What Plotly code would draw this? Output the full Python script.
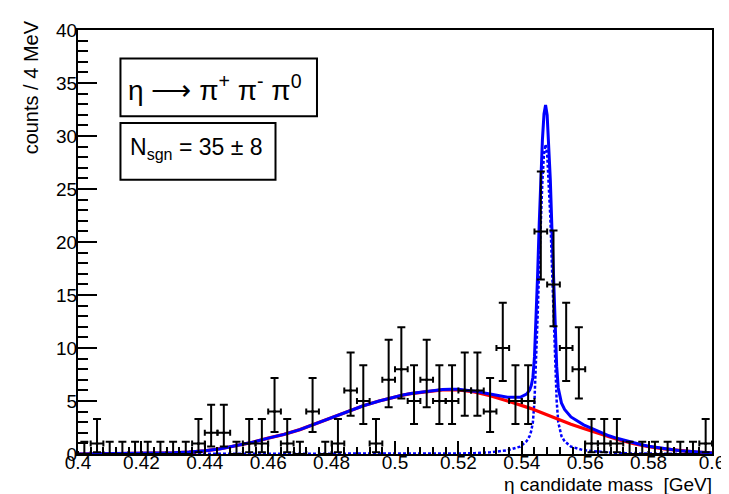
import plotly.graph_objects as go

# ---------------- data ----------------
bin_centers = [0.402, 0.406, 0.410, 0.414, 0.418, 0.422, 0.426, 0.430, 0.434, 0.438,
               0.442, 0.446, 0.450, 0.454, 0.458, 0.462, 0.466, 0.470, 0.474, 0.478,
               0.482, 0.486, 0.490, 0.494, 0.498, 0.502, 0.506, 0.510, 0.514, 0.518,
               0.522, 0.526, 0.530, 0.534, 0.538, 0.542, 0.546, 0.550, 0.554, 0.558,
               0.562, 0.566, 0.570, 0.574, 0.578, 0.582, 0.586, 0.590, 0.594, 0.598]
counts = [0, 1, 0, 0, 0, 0, 0, 0, 0, 1,
          2, 2, 0, 1, 1, 4, 1, 0, 4, 0,
          1, 6, 5, 1, 7, 8, 5, 7, 5, 5,
          6, 6, 4, 10, 5, 5, 21, 16, 10, 8,
          1, 1, 1, 0, 0, 0, 0, 0, 0, 1]
bin_half_width = 0.002

# Poisson (68%) interval limits for each count value
poisson_low = {0: 0.0, 1: 0.173, 2: 0.708, 3: 1.367, 4: 2.086, 5: 2.840, 6: 3.620,
               7: 4.419, 8: 5.232, 9: 6.057, 10: 6.891, 16: 12.05, 21: 16.46}
poisson_high = {0: 1.148, 1: 3.300, 2: 4.638, 3: 5.918, 4: 7.163, 5: 8.382, 6: 9.584,
                7: 10.77, 8: 11.95, 9: 13.11, 10: 14.27, 16: 21.08, 21: 26.65}

# fitted curves
curve_x = [0.400, 0.410, 0.420, 0.430, 0.435, 0.440, 0.445, 0.450, 0.455, 0.460,
           0.465, 0.470, 0.475, 0.480, 0.485, 0.490, 0.495, 0.500, 0.5025, 0.505,
           0.510, 0.515, 0.5175, 0.520, 0.525, 0.5275, 0.530, 0.5355, 0.5395, 0.5415,
           0.5425, 0.543, 0.5435, 0.544, 0.5445, 0.545, 0.5455, 0.546, 0.5465, 0.547,
           0.5475, 0.548, 0.5485, 0.549, 0.5495, 0.550, 0.5505, 0.551, 0.5515, 0.552,
           0.5525, 0.5535, 0.5555, 0.5595, 0.565, 0.5675, 0.570, 0.575, 0.5775, 0.580,
           0.585, 0.590, 0.5925, 0.595, 0.600]
bkg_curve = [0.00, 0.02, 0.05, 0.12, 0.18, 0.30, 0.50, 0.77, 1.10, 1.50,
             1.85, 2.30, 2.85, 3.40, 4.00, 4.55, 5.00, 5.40, 5.55, 5.70,
             5.90, 6.05, 6.07, 6.05, 5.85, 5.70, 5.50, 5.00, 4.65, 4.45,
             4.35, 4.28, 4.22, 4.16, 4.10, 4.00, 3.95, 3.90, 3.84, 3.78,
             3.72, 3.66, 3.60, 3.54, 3.47, 3.40, 3.35, 3.29, 3.23, 3.18,
             3.12, 3.01, 2.80, 2.40, 1.85, 1.60, 1.40, 1.00, 0.85, 0.70,
             0.48, 0.30, 0.24, 0.18, 0.10]
sig_curve = [0.00, 0.00, 0.00, 0.00, 0.00, 0.00, 0.00, 0.00, 0.00, 0.00,
             0.00, 0.00, 0.00, 0.00, 0.00, 0.00, 0.00, 0.01, 0.01, 0.01,
             0.02, 0.03, 0.04, 0.05, 0.08, 0.12, 0.16, 0.35, 0.70, 1.20,
             1.70, 2.20, 3.00, 5.00, 8.50, 13.0, 17.8, 22.3, 25.8, 28.3,
             29.2, 28.3, 25.8, 22.3, 17.8, 13.0, 8.50, 5.00, 3.00, 2.20,
             1.70, 1.20, 0.70, 0.35, 0.18, 0.12, 0.08, 0.05, 0.04, 0.03,
             0.02, 0.01, 0.01, 0.00, 0.00]
total_curve = [b + s for b, s in zip(bkg_curve, sig_curve)]

x_tickvals = [0.40, 0.42, 0.44, 0.46, 0.48, 0.50, 0.52, 0.54, 0.56, 0.58, 0.60]
x_ticktext = ["0.4", "0.42", "0.44", "0.46", "0.48", "0.5", "0.52", "0.54", "0.56", "0.58", "0.6"]
y_tickvals = [0, 5, 10, 15, 20, 25, 30, 35, 40]
y_ticktext = ["0", "5", "10", "15", "20", "25", "30", "35", "40"]

# ---------------- figure ----------------
FONT = "Liberation Sans, Arial, Helvetica, sans-serif"

err_plus = [poisson_high[n] - n for n in counts]
err_minus = [n - poisson_low[n] for n in counts]

fig = go.Figure()

fig.add_trace(go.Scatter(x=curve_x, y=sig_curve, mode="lines",
                         line=dict(color="#0000ff", width=2.5, dash="3px,2px"),
                         hoverinfo="skip", showlegend=False))
fig.add_trace(go.Scatter(x=curve_x, y=bkg_curve, mode="lines",
                         line=dict(color="#ff0000", width=3.2),
                         hoverinfo="skip", showlegend=False))
fig.add_trace(go.Scatter(x=curve_x, y=total_curve, mode="lines",
                         line=dict(color="#0000ff", width=3),
                         hoverinfo="skip", showlegend=False))
fig.add_trace(go.Scatter(
    x=bin_centers, y=counts, mode="markers",
    marker=dict(color="black", size=3),
    error_y=dict(type="data", symmetric=False, array=err_plus, arrayminus=err_minus,
                 color="black", thickness=2, width=4),
    error_x=dict(type="constant", value=bin_half_width, color="black", thickness=2, width=3),
    cliponaxis=False, showlegend=False))

axis_common = dict(showgrid=False, zeroline=False, showline=True, linecolor="black",
                   linewidth=2, mirror=True, ticks="inside", tickcolor="black",
                   tickwidth=2, tickfont=dict(family=FONT, size=19, color="black"))

fig.update_xaxes(range=[0.4, 0.6], tickmode="array", tickvals=x_tickvals,
                 ticktext=x_ticktext, ticklen=13, ticklabelstandoff=-10,
                 minor=dict(tickmode="linear", tick0=0.4, dtick=0.004, ticks="inside",
                            ticklen=7, tickcolor="black", tickwidth=2, showgrid=False),
                 **axis_common)
fig.update_yaxes(range=[0, 40], tickmode="array", tickvals=y_tickvals,
                 ticktext=y_ticktext, ticklen=19, ticklabelstandoff=-5,
                 minor=dict(tickmode="linear", tick0=0, dtick=1, ticks="inside",
                            ticklen=10, tickcolor="black", tickwidth=2, showgrid=False),
                 **axis_common)

PW, PH = 642.0, 433.0  # plot area size in px
L, T = 70.0, 13.0


def px(xp):
    return (xp - L) / PW


def py(yp):
    return (T + PH - yp) / PH


fig.update_layout(
    width=729, height=494,
    margin=dict(l=70, r=17, t=13, b=48),
    paper_bgcolor="white", plot_bgcolor="white",
    font=dict(family=FONT, color="black"),
    shapes=[
        dict(type="rect", xref="paper", yref="paper",
             x0=px(113), x1=px(312), y0=py(101), y1=py(42),
             line=dict(color="black", width=2), fillcolor="white", layer="above"),
        dict(type="rect", xref="paper", yref="paper",
             x0=px(113), x1=px(270), y0=py(166), y1=py(108),
             line=dict(color="black", width=2), fillcolor="white", layer="above"),
    ],
    annotations=[
        dict(text="counts / 4 MeV", xref="paper", yref="paper", x=px(22), y=py(72),
             xanchor="center", yanchor="middle", textangle=-90, showarrow=False,
             font=dict(family=FONT, size=20, color="black")),
        dict(text="\u03b7 candidate mass \u00a0[GeV]", xref="paper", yref="paper",
             x=px(714), y=py(477), xanchor="right", yanchor="middle", showarrow=False,
             font=dict(family=FONT, size=19, color="black")),
        dict(text="\u03b7 \u27f6 \u03c0<sup>+</sup> \u03c0<sup>-</sup> \u03c0<sup>0</sup>",
             xref="paper", yref="paper", x=px(119), y=py(72), xanchor="left",
             yanchor="middle", showarrow=False,
             font=dict(family=FONT, size=28, color="black")),
        dict(text="N<sub>sgn</sub> = 35 \u00b1 8", xref="paper", yref="paper",
             x=px(121), y=py(134), xanchor="left", yanchor="middle", showarrow=False,
             font=dict(family=FONT, size=23, color="black")),
    ],
)

fig.write_html("out.html")
